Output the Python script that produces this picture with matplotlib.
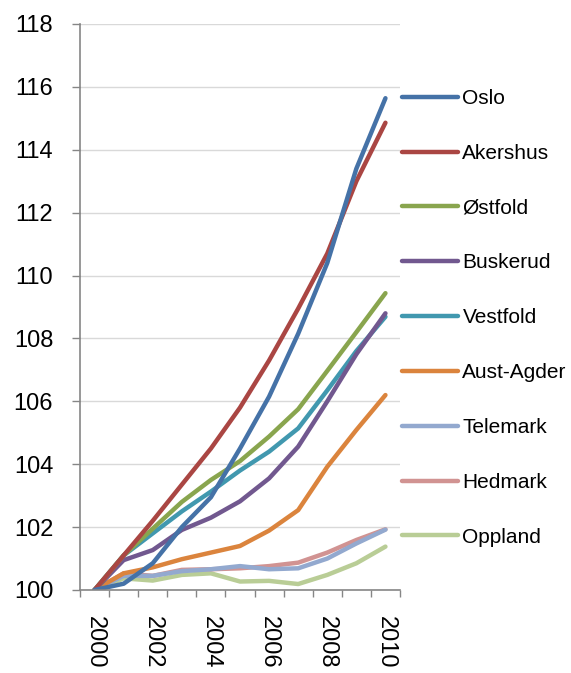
import matplotlib
matplotlib.use("Agg")
import matplotlib.pyplot as plt
from matplotlib.ticker import FixedLocator, NullFormatter

plt.rcParams['font.family'] = ['Liberation Sans', 'DejaVu Sans']

years = [2000, 2001, 2002, 2003, 2004, 2005, 2006, 2007, 2008, 2009, 2010]
year_labels = ['2000', '2002', '2004', '2006', '2008', '2010']

names = ['Oslo', 'Akershus', 'Østfold', 'Buskerud', 'Vestfold',
         'Aust-Agder', 'Telemark', 'Hedmark', 'Oppland']
colors = ['#4572A7', '#AA4643', '#89A54E', '#71588F', '#4198AF',
          '#DB843D', '#93A9CF', '#D19392', '#B9CD96']

oslo = [100, 100.2, 100.85, 102.0, 102.95, 104.5, 106.15, 108.15, 110.4, 113.4, 115.64]
akershus = [100, 101.1, 102.2, 103.35, 104.5, 105.8, 107.3, 108.95, 110.7, 113.0, 114.86]
ostfold = [100, 101.1, 101.95, 102.8, 103.5, 104.1, 104.88, 105.75, 106.97, 108.2, 109.44]
buskerud = [100, 100.95, 101.27, 101.91, 102.3, 102.82, 103.55, 104.56, 106.0, 107.5, 108.8]
vestfold = [100, 101.1, 101.8, 102.5, 103.13, 103.8, 104.4, 105.14, 106.35, 107.6, 108.69]
aust_agder = [100, 100.53, 100.72, 100.98, 101.19, 101.4, 101.89, 102.54, 103.92, 105.09, 106.2]
telemark = [100, 100.45, 100.45, 100.6, 100.66, 100.76, 100.66, 100.69, 101.0, 101.48, 101.92]
hedmark = [100, 100.53, 100.45, 100.64, 100.66, 100.69, 100.76, 100.87, 101.19, 101.59, 101.93]
oppland = [100, 100.37, 100.3, 100.48, 100.53, 100.27, 100.29, 100.19, 100.48, 100.85, 101.38]

series = [oslo, akershus, ostfold, buskerud, vestfold, aust_agder, telemark, hedmark, oppland]

W, H = 571, 673
fig = plt.figure(figsize=(W / 100, H / 100), dpi=100)
ax = fig.add_axes([80 / W, 1 - 590 / H, 320 / W, 566 / H])

xpos = list(range(len(years)))
# draw in reverse order so Oslo is on top
for name, vals, col in reversed(list(zip(names, series, colors))):
    ax.plot(xpos, vals, color=col, lw=3.2, solid_capstyle='round',
            solid_joinstyle='round', label=name)

ax.set_xlim(-0.5, len(years) - 0.5)
ax.set_ylim(100, 118)
ax.set_yticks(range(100, 119, 2))
ax.yaxis.grid(True, color='#d9d9d9', lw=1.0)
ax.set_axisbelow(True)

# category boundaries as tick marks
ax.xaxis.set_major_locator(FixedLocator([i - 0.5 for i in range(len(years) + 1)]))
ax.xaxis.set_major_formatter(NullFormatter())
label_pos = [years.index(int(y)) for y in year_labels]
ax.xaxis.set_minor_locator(FixedLocator(label_pos))
ax.set_xticklabels(year_labels, minor=True, rotation=-90, fontsize=17)
ax.tick_params(axis='x', which='minor', length=0, pad=19)
ax.tick_params(axis='x', which='major', length=5, width=1, color='#868686', direction='out')
ax.tick_params(axis='y', length=5.8, width=1, color='#868686', direction='out',
               labelsize=17, pad=13.5)

for s in ['top', 'right']:
    ax.spines[s].set_visible(False)
for s in ['left', 'bottom']:
    ax.spines[s].set_color('#868686')
    ax.spines[s].set_linewidth(1.2)

handles, labels = ax.get_legend_handles_labels()
handles, labels = handles[::-1], labels[::-1]
leg = fig.legend(handles, labels, loc='upper left',
                 bbox_to_anchor=(402 / W, 1 - 89 / H), frameon=False,
                 fontsize=15, handlelength=2.7, handletextpad=0.2,
                 labelspacing=1.72, borderpad=0, borderaxespad=0)

fig.savefig('out.png', dpi=100)
